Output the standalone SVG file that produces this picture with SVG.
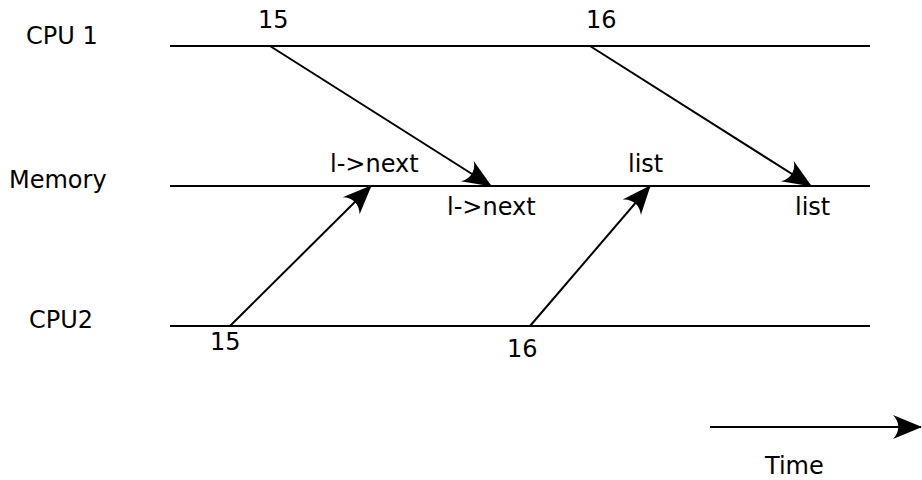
<svg xmlns="http://www.w3.org/2000/svg" width="922" height="480" viewBox="0 0 922 480">
<style>
text{font-family:"DejaVu Sans",sans-serif;font-size:24px;fill:#000}
.ln{stroke:#000;stroke-width:2;fill:none}
</style>
<defs>
<marker id="ah" markerUnits="userSpaceOnUse" viewBox="-30 -14 32 28" refX="0" refY="0" markerWidth="32" markerHeight="28" orient="auto" overflow="visible">
<path d="M1,0 L-28,-12 C-21,-5 -21,5 -28,12 Z" fill="#000"/>
</marker>
</defs>
<rect width="922" height="480" fill="#fff"/>
<g id="cpu1">
<text x="26" y="44">CPU 1</text>
<line class="ln" x1="170" y1="46" x2="870" y2="46"/>
</g>
<g id="memory">
<text x="9" y="188">Memory</text>
<line class="ln" x1="170" y1="186" x2="870" y2="186"/>
</g>
<g id="cpu2">
<text x="29" y="328">CPU2</text>
<line class="ln" x1="170" y1="326" x2="870" y2="326"/>
</g>
<g id="labels">
<text x="258" y="28">15</text>
<text x="586" y="28">16</text>
<text x="330" y="172">l-&gt;next</text>
<text x="628" y="172">list</text>
<text x="447" y="215">l-&gt;next</text>
<text x="795" y="215">list</text>
<text x="210" y="350">15</text>
<text x="507" y="357">16</text>
</g>
<g id="connectors">
<line class="ln" x1="270" y1="46" x2="491" y2="186" marker-end="url(#ah)"/>
<line class="ln" x1="590" y1="46" x2="811" y2="186" marker-end="url(#ah)"/>
<line class="ln" x1="230" y1="326" x2="371" y2="186" marker-end="url(#ah)"/>
<line class="ln" x1="530" y1="326" x2="650" y2="186" marker-end="url(#ah)"/>
</g>
<g id="time">
<line class="ln" x1="710" y1="427" x2="921" y2="427" marker-end="url(#ah)"/>
<text x="765" y="474">Time</text>
</g>
</svg>
